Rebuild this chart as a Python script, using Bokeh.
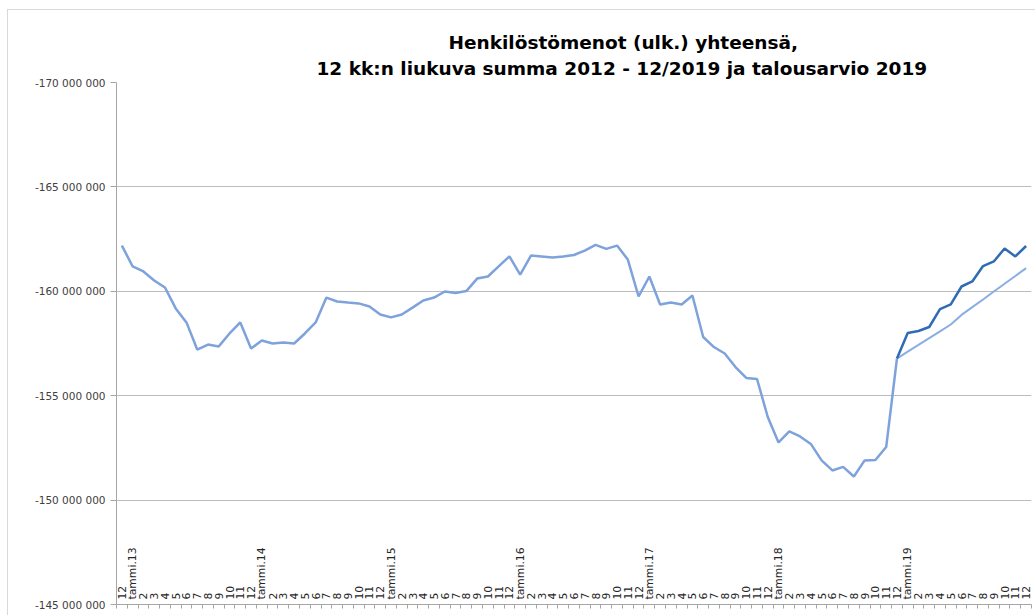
import math
from bokeh.plotting import figure
from bokeh.models import Range1d, FixedTicker, Title, CustomJSTickFormatter
from bokeh.embed import file_html
from bokeh.resources import INLINE
from bokeh.core.properties import value

# category labels (12/2012 ... 12/2019)
years = ["13", "14", "15", "16", "17", "18", "19"]
months = ["2", "3", "4", "5", "6", "7", "8", "9", "10", "11", "12"]
x_labels = ["12"]
for yy in years:
    x_labels += ["tammi." + yy] + months

# 12-month rolling sum, million EUR, 12/2012 - 12/2018
history = [
    -162.19, -161.19, -160.95, -160.52, -160.18, -159.18, -158.51, -157.21, -157.45, -157.36,
    -157.98, -158.51, -157.26, -157.64, -157.50, -157.55, -157.50, -157.98, -158.51, -159.70,
    -159.51, -159.46, -159.42, -159.27, -158.89, -158.75, -158.89, -159.22, -159.56, -159.70,
    -159.99, -159.92, -160.01, -160.61, -160.71, -161.19, -161.67, -160.80, -161.71, -161.67,
    -161.62, -161.67, -161.74, -161.95, -162.22, -162.03, -162.19, -161.52, -159.75, -160.71,
    -159.37, -159.46, -159.37, -159.80, -157.81, -157.33, -157.02, -156.37, -155.85, -155.80,
    -153.98, -152.76, -153.29, -153.05, -152.69, -151.90, -151.42, -151.59, -151.13, -151.90,
    -151.92, -152.54, -156.78,
]
# budget 2019 (1-12/2019)
budget_2019 = [-157.11, -157.43, -157.76, -158.08, -158.41, -158.87,
               -159.24, -159.61, -159.99, -160.36, -160.73, -161.11]
# actual 2019 rolling sum (12/2018 - 12/2019)
actual_2019 = [-156.78, -158.00, -158.10, -158.29, -159.15, -159.37, -160.23,
               -160.47, -161.21, -161.43, -162.05, -161.67, -162.17]

y_ticks = [-170000000, -165000000, -160000000, -155000000, -150000000, -145000000]
y_tick_labels = ["-170 000 000", "-165 000 000", "-160 000 000",
                 "-155 000 000", "-150 000 000", "-145 000 000"]

title_line1 = "Henkilöstömenot (ulk.) yhteensä,"
title_line2 = "12 kk:n liukuva summa 2012 - 12/2019 ja talousarvio  2019"

n = len(x_labels)
idx = list(range(n))
M = 1e6
h_len = len(history)

p = figure(width=1028, height=606, output_backend="svg", toolbar_location=None,
           x_range=Range1d(-0.5, n - 0.5),
           y_range=Range1d(y_ticks[-1], y_ticks[0]),
           min_border_left=108, min_border_right=5, min_border_top=72, min_border_bottom=12)
p.styles = {"margin-left": "7px", "margin-top": "9px",
            "border-left": "1px solid #d9d9d9", "border-top": "1px solid #d9d9d9"}
p.outline_line_color = None
p.background_fill_color = "white"
p.border_fill_color = "white"

# titles (p.title is outermost, added titles stack closer to the plot)
p.title.text = title_line1
p.title.align = "left"
p.title.offset = 332
p.title.text_font = "DejaVu Sans"
p.title.text_font_size = "18.5px"
p.title.text_font_style = "bold"
p.title.text_color = "#000000"
p.title.standoff = 0
t2 = Title(text=title_line2, align="left", offset=200, text_font="DejaVu Sans",
           text_font_size="18.5px", text_font_style="bold", text_color="#000000", standoff=7)
p.add_layout(t2, "above")

# grid
p.xgrid.visible = False
p.ygrid.grid_line_color = "#bdbdbd"
p.ygrid.grid_line_width = 1

# y axis
p.yaxis.ticker = FixedTicker(ticks=y_ticks)
p.yaxis.major_label_overrides = dict(zip(y_ticks, y_tick_labels))
p.yaxis.axis_line_color = "#a6a6a6"
p.yaxis.major_tick_line_color = "#a6a6a6"
p.yaxis.major_tick_out = 6
p.yaxis.major_tick_in = 0
p.yaxis.minor_tick_out = 0
p.yaxis.minor_tick_in = 0
p.yaxis.major_label_standoff = 5
p.yaxis.major_label_text_font = "DejaVu Sans"
p.yaxis.major_label_text_font_size = "10.5px"
p.yaxis.major_label_text_color = "#404040"

# x axis: ticks between categories, labels drawn inside above axis
p.xaxis.ticker = FixedTicker(ticks=[i - 0.5 for i in range(n + 1)])
p.xaxis.formatter = CustomJSTickFormatter(code="return ''")
p.xaxis.major_label_standoff = 0
p.xaxis.axis_line_color = "#a6a6a6"
p.xaxis.major_tick_line_color = "#a6a6a6"
p.xaxis.major_tick_out = 4
p.xaxis.major_tick_in = 0
p.xaxis.minor_tick_out = 0
p.xaxis.minor_tick_in = 0

p.text(x=idx, y=[y_ticks[-1]] * n, text=x_labels, angle=math.pi / 2,
       text_align="left", text_baseline="middle", y_offset=-5,
       text_font=value("DejaVu Sans"), text_font_size="10.8px", text_color="#262626")

# lines
p.line(idx[:h_len], [v * M for v in history], line_color="#7ea2db", line_width=2.5)
p.line(idx[h_len - 1:], [history[-1] * M] + [v * M for v in budget_2019],
       line_color="#8aaee2", line_width=2)
p.line(idx[h_len - 1:], [v * M for v in actual_2019], line_color="#2f6cb4", line_width=2.5)

open("out.html", "w").write(file_html(p, INLINE))
